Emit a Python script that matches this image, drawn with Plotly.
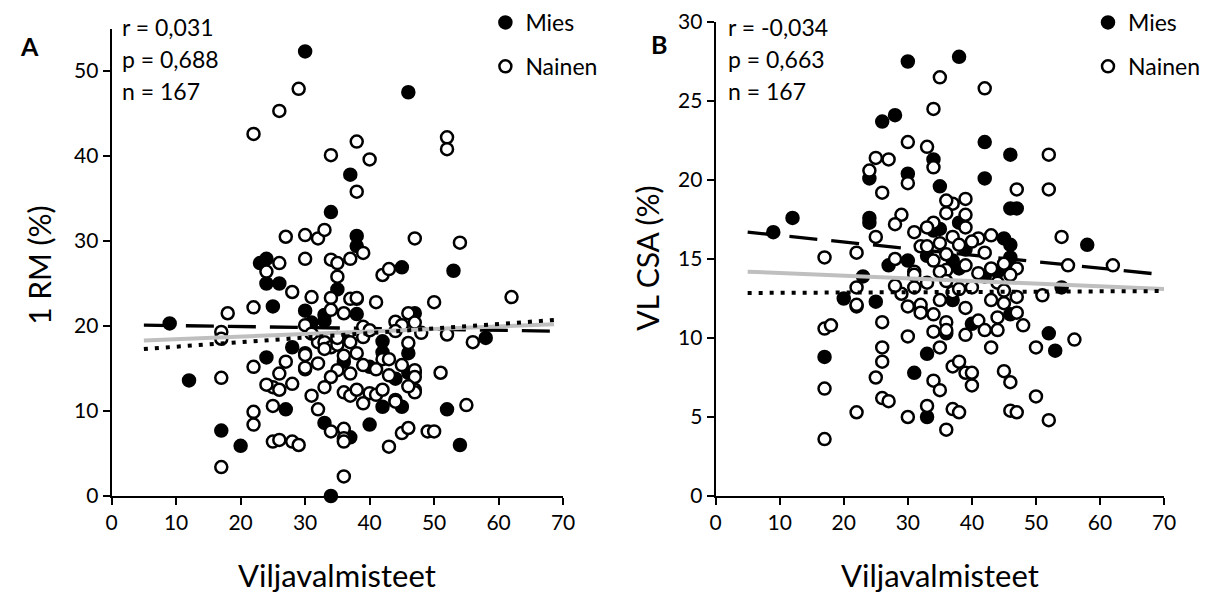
import plotly.graph_objects as go

# ---------------- Data ----------------
# Panel A: 1 RM (%) vs Viljavalmisteet
xA_men = [30, 46, 9, 12, 17, 20, 34, 23, 24, 24, 26, 25, 30, 28, 24, 27, 33, 31, 33, 35,
          36, 37, 34, 38, 38, 38, 45, 42, 42, 46, 40, 40, 42, 45, 37, 46, 53, 58, 52, 54,
          47, 38, 47, 36, 33, 44]
yA_men = [52.3, 47.5, 20.3, 13.6, 7.7, 5.9, 0.0, 27.4, 27.9, 25.0, 25.0, 22.3, 21.8, 17.5, 16.3, 10.2, 8.6, 20.4, 20.6, 24.3,
          15.8, 37.8, 33.4, 30.6, 29.4, 21.4, 26.9, 18.2, 16.9, 16.8, 15.2, 8.4, 10.5, 10.5, 6.9, 14.5, 26.5, 18.6, 10.2, 6.0,
          21.5, 23.2, 14.5, 18.5, 21.3, 13.8]

xA_women = [29, 26, 22, 34, 27, 30, 32, 33, 38, 40, 38, 52, 52, 47, 54,
            26, 24, 30, 34, 35, 37, 39, 35, 42, 43, 28, 31, 34, 37, 38, 22, 41, 34, 36, 30, 39, 39, 44, 45, 46, 47, 48,
            32, 33, 34, 35, 37, 46, 30, 32, 27, 22, 38, 39, 35, 34, 30, 42, 43, 43, 45, 47, 47, 26, 25, 26, 33, 31, 32, 36,
            37, 38, 40, 41, 42, 44, 47, 25, 22, 22, 34, 36, 36, 36, 25, 26, 28, 29, 45, 46, 43, 49, 36,
            18, 17, 17, 17, 17, 30, 30, 62, 50, 52, 56, 51, 55, 50, 47, 44,
            33, 35, 36, 40, 44, 31, 37, 41, 46, 28, 24, 39]
yA_women = [47.9, 45.3, 42.6, 40.1, 30.5, 30.7, 30.3, 31.3, 41.7, 39.6, 35.8, 42.2, 40.8, 30.3, 29.8,
            27.4, 26.4, 27.9, 27.8, 27.4, 27.9, 28.6, 25.8, 26.0, 26.7, 24.0, 23.4, 23.3, 23.2, 23.3, 22.2, 22.8, 21.9, 21.5, 20.1, 19.9, 18.7, 20.5, 20.1, 21.5, 20.4, 19.2,
            18.1, 18.1, 17.5, 17.8, 18.1, 18.0, 16.8, 15.6, 15.8, 15.2, 16.8, 15.4, 14.8, 14.0, 14.9, 16.1, 16.1, 14.2, 15.4, 14.8, 14.0, 14.4, 12.8, 12.5, 12.8, 11.8, 10.2, 12.2,
            11.8, 12.5, 12.1, 11.9, 12.5, 11.3, 12.5, 10.6, 9.9, 8.4, 7.6, 7.9, 6.8, 6.4, 6.4, 6.6, 6.4, 6.0, 7.4, 8.0, 5.8, 7.6, 2.3,
            21.5, 19.3, 18.5, 13.9, 3.4, 16.6, 15.1, 23.4, 22.8, 19.0, 18.1, 14.5, 10.7, 7.6, 12.2, 11.1,
            17.3, 18.6, 16.5, 19.5, 19.4, 19.1, 14.4, 14.9, 12.9, 13.2, 13.1, 10.9]

# Panel B: VL CSA (%) vs Viljavalmisteet
xB_men = [30, 26, 28, 9, 12, 24, 24, 24, 30, 34, 35, 34, 35, 38, 42, 42, 46, 46, 47, 58,
          45, 46, 38, 27, 30, 37, 38, 42, 23, 25, 52, 53, 54, 40, 46, 46, 37, 20, 17, 33,
          31, 33, 36, 33, 39, 44]
yB_men = [27.5, 23.7, 24.1, 16.7, 17.6, 17.6, 17.3, 20.1, 20.4, 21.3, 19.6, 16.8, 16.9, 27.8, 22.4, 20.1, 21.6, 18.2, 18.2, 15.9,
          16.3, 15.9, 17.3, 14.6, 14.9, 14.9, 14.4, 13.9, 13.9, 12.3, 10.3, 9.2, 13.2, 10.9, 11.5, 15.1, 12.4, 12.5, 8.8, 9.0,
          7.8, 5.0, 10.3, 15.2, 15.6, 14.2]

xB_women = [35, 34, 42, 30, 33, 34, 25, 27, 24, 30, 26, 29, 28, 25, 34, 22, 17, 32, 33, 35,
            52, 52, 47, 54, 39, 37, 36, 39, 39, 37, 41, 43, 38, 28, 34, 36, 36, 42, 45, 47,
            43, 31, 35, 55, 62, 22, 22, 29, 31, 31,
            51, 47, 47, 43, 45, 39, 41, 44, 48, 42, 44, 39, 56, 50, 43, 36, 36, 35, 37, 39,
            40, 40, 45, 46, 50, 37, 38, 46, 47, 52, 36, 17, 18, 17, 17, 22, 26, 26, 26, 25,
            26, 27, 30, 30, 33, 34, 35, 30, 32, 34, 34, 32, 32, 38, 22,
            33, 36, 37, 40, 41, 44, 39, 31, 33, 36, 40, 45, 46, 28, 35, 38]
yB_women = [26.5, 24.5, 25.8, 22.4, 22.1, 20.8, 21.4, 21.3, 20.6, 19.8, 19.2, 17.8, 17.2, 16.4, 17.3, 15.4, 15.1, 15.8, 15.8, 16.0,
            21.6, 19.4, 19.4, 16.4, 18.8, 18.5, 18.7, 17.8, 17.0, 16.4, 16.3, 16.5, 15.9, 15.0, 14.9, 15.3, 14.3, 15.4, 14.7, 14.4,
            14.4, 14.2, 14.2, 14.6, 14.6, 13.2, 12.0, 12.8, 13.2, 14.0,
            12.7, 12.6, 11.6, 12.4, 12.2, 11.9, 11.1, 11.3, 10.8, 10.5, 10.5, 10.2, 9.9, 9.4, 9.4, 11.0, 10.5, 9.4, 8.2, 7.8,
            7.8, 7.0, 7.9, 7.2, 6.3, 5.5, 5.3, 5.4, 5.3, 4.8, 4.2, 10.6, 10.8, 6.8, 3.6, 5.3, 11.0, 9.4, 8.5, 7.5,
            6.2, 6.0, 10.1, 5.0, 5.7, 7.3, 6.7, 12.0, 11.8, 11.5, 10.4, 12.1, 11.6, 8.5, 12.1,
            13.5, 13.6, 12.9, 13.2, 14.1, 13.5, 14.6, 16.7, 17.0, 17.9, 16.1, 13.0, 14.0, 13.3, 12.4, 13.1]

# Linear trend lines (start / end values)
trendA_x = [5, 68.6]
trendA_men = [20.1, 19.4]
trendA_women = [17.3, 20.7]
trendA_all = [18.3, 20.2]

trendB_x = [5, 70]
trendB_men = [16.7, 14.0]
trendB_women = [12.85, 12.97]
trendB_all = [14.2, 13.1]

statsA = ["r = 0,031", "p = 0,688", "n = 167"]
statsB = ["r = -0,034", "p = 0,663", "n = 167"]

x_ticks = [0, 10, 20, 30, 40, 50, 60, 70]
yA_ticks = [0, 10, 20, 30, 40, 50]
yB_ticks = [0, 5, 10, 15, 20, 25, 30]

# ---------------- Figure ----------------
W, H = 1205, 594
FONT = "Lato"

def px_x(p):
    return p / W

def px_y(p):
    return 1 - p / H

fig = go.Figure()

msize = 12
mline = 2.5

def add_panel(xm, ym, xw, yw, tx, tm, tw, ta, xa, ya, leg):
    # trend lines
    fig.add_trace(go.Scatter(x=tx, y=tm, mode="lines", xaxis=xa, yaxis=ya, showlegend=False,
                             line=dict(color="black", width=3.3, dash="28px,14px"), hoverinfo="skip"))
    # markers (men first, women on top)
    fig.add_trace(go.Scatter(x=xm, y=ym, mode="markers", name="Mies", xaxis=xa, yaxis=ya,
                             legend=leg, legendgroup=leg + "m", cliponaxis=False,
                             marker=dict(symbol="circle", size=msize, color="black",
                                         line=dict(color="black", width=mline))))
    fig.add_trace(go.Scatter(x=xw, y=yw, mode="markers", name="Nainen", xaxis=xa, yaxis=ya,
                             legend=leg, legendgroup=leg + "w", cliponaxis=False,
                             marker=dict(symbol="circle", size=msize, color="white",
                                         line=dict(color="black", width=mline))))
    fig.add_trace(go.Scatter(x=tx, y=ta, mode="lines", xaxis=xa, yaxis=ya, showlegend=False,
                             line=dict(color="#BFBFBF", width=4), hoverinfo="skip"))
    fig.add_trace(go.Scatter(x=tx, y=tw, mode="lines", xaxis=xa, yaxis=ya, showlegend=False,
                             line=dict(color="black", width=4, dash="4px,7px"), hoverinfo="skip"))

add_panel(xA_men, yA_men, xA_women, yA_women, trendA_x, trendA_men, trendA_women, trendA_all, "x", "y", "legend")
add_panel(xB_men, yB_men, xB_women, yB_women, trendB_x, trendB_men, trendB_women, trendB_all, "x2", "y2", "legend2")

axis_common = dict(showline=True, linewidth=2, linecolor="black", showgrid=False, zeroline=False,
                   ticks="outside", ticklen=7, tickwidth=2, tickcolor="black",
                   tickfont=dict(family=FONT, size=21, color="black"), automargin=False)

legend_common = dict(xanchor="left", yanchor="top", bgcolor="rgba(0,0,0,0)",
                     font=dict(family=FONT, size=23, color="black"), traceorder="grouped",
                     tracegroupgap=11, itemwidth=30)

fig.update_layout(
    width=W, height=H,
    margin=dict(l=0, r=0, t=0, b=0),
    paper_bgcolor="white", plot_bgcolor="white",
    font=dict(family=FONT, color="black"),
    xaxis=dict(domain=[px_x(112), px_x(565)], range=[0, 70], tickvals=x_ticks, anchor="y", **axis_common),
    yaxis=dict(domain=[px_y(496), px_y(28.5)], range=[0, 55], tickvals=yA_ticks, anchor="x", **axis_common),
    xaxis2=dict(domain=[px_x(718), px_x(1168)], range=[0, 70], tickvals=x_ticks, anchor="y2", **axis_common),
    yaxis2=dict(domain=[px_y(496), px_y(22)], range=[0, 30], tickvals=yB_ticks, anchor="x2", **axis_common),
    legend=dict(x=px_x(487), y=px_y(1), **legend_common),
    legend2=dict(x=px_x(1092), y=px_y(1), **legend_common),
    showlegend=True,
)

ann = []
# stats text
for i, t in enumerate(statsA):
    ann.append(dict(text=t, x=px_x(120), y=px_y(27 + 32 * i), xref="paper", yref="paper",
                    xanchor="left", yanchor="middle", showarrow=False,
                    font=dict(family=FONT, size=23, color="black")))
for i, t in enumerate(statsB):
    ann.append(dict(text=t, x=px_x(728), y=px_y(27 + 32 * i), xref="paper", yref="paper",
                    xanchor="left", yanchor="middle", showarrow=False,
                    font=dict(family=FONT, size=23, color="black")))
# panel letters
ann.append(dict(text="<b>A</b>", x=px_x(30), y=px_y(46), xref="paper", yref="paper", showarrow=False,
                xanchor="center", yanchor="middle", font=dict(family=FONT, size=25, color="black")))
ann.append(dict(text="<b>B</b>", x=px_x(661), y=px_y(44), xref="paper", yref="paper", showarrow=False,
                xanchor="center", yanchor="middle", font=dict(family=FONT, size=25, color="black")))
# axis titles
ann.append(dict(text="Viljavalmisteet", x=px_x(338), y=px_y(575), xref="paper", yref="paper", showarrow=False,
                xanchor="center", yanchor="middle", font=dict(family=FONT, size=31, color="black")))
ann.append(dict(text="Viljavalmisteet", x=px_x(943), y=px_y(575), xref="paper", yref="paper", showarrow=False,
                xanchor="center", yanchor="middle", font=dict(family=FONT, size=31, color="black")))
ann.append(dict(text="1 RM (%)", x=px_x(39), y=px_y(265), xref="paper", yref="paper", showarrow=False,
                textangle=-90, xanchor="center", yanchor="middle", font=dict(family=FONT, size=30, color="black")))
ann.append(dict(text="VL CSA (%)", x=px_x(649), y=px_y(258), xref="paper", yref="paper", showarrow=False,
                textangle=-90, xanchor="center", yanchor="middle", font=dict(family=FONT, size=30, color="black")))
fig.update_layout(annotations=ann)

fig.write_html("out.html")
